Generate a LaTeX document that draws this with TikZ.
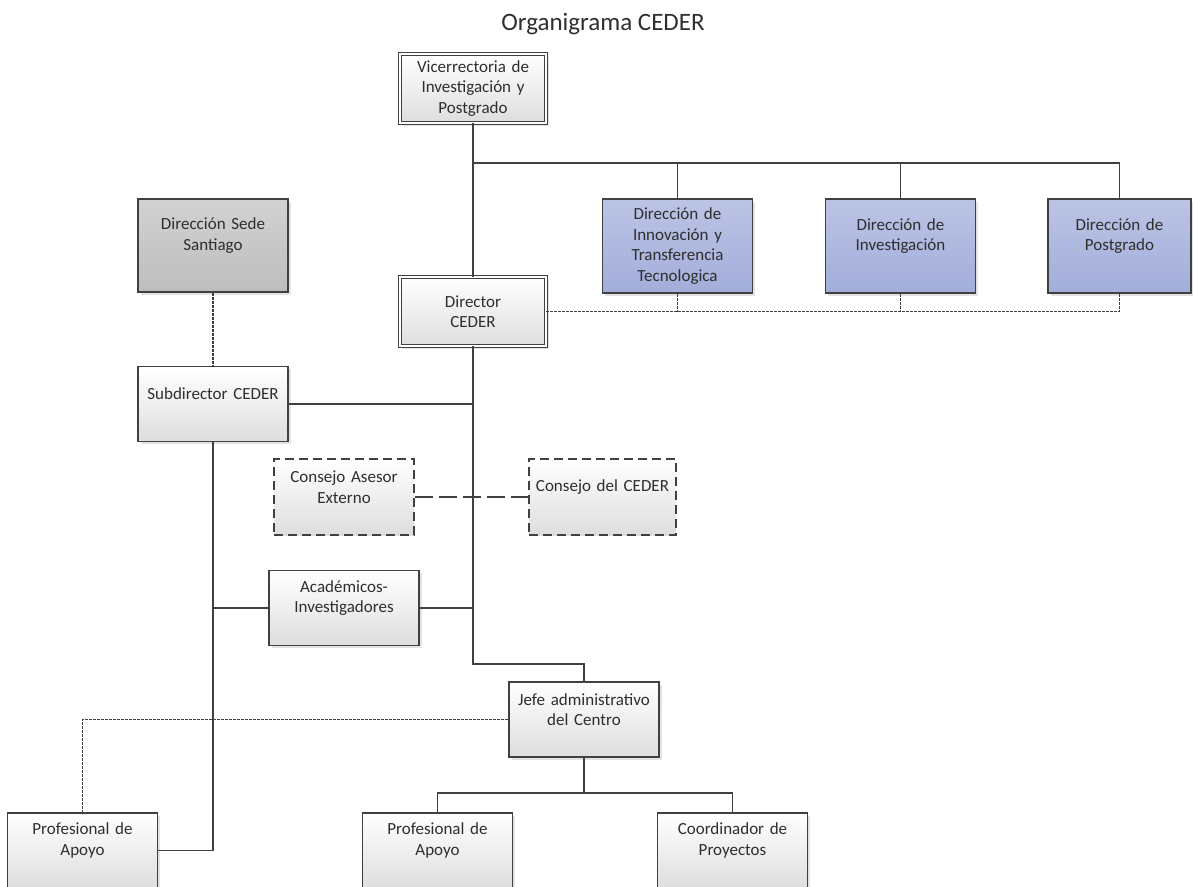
\documentclass[tikz,border=0pt]{standalone}
\usepackage{fontspec}
\setmainfont{Carlito}
\usetikzlibrary{shadows}
\definecolor{linegray}{HTML}{404040}
\definecolor{textgray}{HTML}{2E2E2E}
\definecolor{bluetop}{HTML}{BCC4E5}
\definecolor{bluebot}{HTML}{A2ADDA}
\definecolor{graytop}{HTML}{D2D2D2}
\definecolor{graybot}{HTML}{BDBDBD}
\newcommand{\boxfont}{\fontsize{17}{20.5}\selectfont}
\newcommand{\liftgap}{\par\vspace*{20pt}}

\begin{document}
\begin{tikzpicture}[x=1pt, y=-1pt,
  card/.style={draw=linegray, line width=1.1pt, top color=white, bottom color=black!13,
    minimum width=150pt, minimum height=75pt, text width=140pt, inner sep=0pt,
    align=center, font=\boxfont, text=textgray},
  unit/.style={card, drop shadow={shadow xshift=2.5pt, shadow yshift=-2.5pt, fill=black!22}},
  lifted/.style={execute at end node=\liftgap},
  twin/.style={unit, double, double distance=2.2pt, line width=0.9pt,
    minimum width=146pt, minimum height=69pt},
  dirbox/.style={unit, top color=bluetop, bottom color=bluebot, minimum height=94pt},
  council/.style={card, dash pattern=on 9pt off 5pt, minimum height=76pt},
  link/.style={draw=linegray, line width=1.2pt},
  dotline/.style={link, line width=1.4pt, dash pattern=on 3pt off 1pt},
  dashline/.style={link, dash pattern=on 18pt off 6pt}]

  \useasboundingbox (0,0) rectangle (1193,886);

  \node[anchor=base, font=\fontsize{25}{30}\selectfont, text=textgray] (title) at (603,30) {Organigrama CEDER};

  \node[twin] (vice) at (473,88.5) {Vicerrectoria de\\Investigación y\\Postgrado};
  \node[twin] (dir) at (473,311.5) {Director\\CEDER};
  \node[dirbox] (innov) at (677.5,246) {Dirección de\\Innovación y\\Transferencia\\Tecnologica};
  \node[dirbox, lifted] (inves) at (900.5,246) {Dirección de\\Investigación};
  \node[dirbox, lifted, minimum width=143pt, text width=135pt] (posg) at (1119.5,246) {Dirección de\\Postgrado};
  \node[unit, lifted, top color=graytop, bottom color=graybot, minimum height=93pt] (sede) at (213,245.5) {Dirección Sede\\Santiago};
  \node[unit, lifted] (sub) at (213,404) {Subdirector CEDER};
  \node[council, lifted, minimum width=140pt, text width=130pt] (asesor) at (344,497) {Consejo Asesor\\Externo};
  \node[council, lifted, minimum width=147pt] (consejo) at (602.5,497) {Consejo del CEDER};
  \node[unit, lifted] (acad) at (344,608) {Académicos-\\Investigadores};
  \node[unit, lifted] (jefe) at (584,719.5) {Jefe administrativo\\del Centro};
  \node[unit, lifted] (profA) at (82.5,850.5) {Profesional de\\Apoyo};
  \node[unit, lifted] (profB) at (437.5,850.5) {Profesional de\\Apoyo};
  \node[unit, lifted] (coord) at (732.5,850.5) {Coordinador de\\Proyectos};

  \coordinate (bus) at (473,163);
  \coordinate (turn) at (473,664);
  \coordinate (split) at (584,793);

  \draw[link] (vice.south) -- (dir.north);
  \foreach \n in {innov,inves,posg} {
    \draw[link] (bus) -| (\n.north);
    \draw[dotline] (\n.south) -- (\n.south |- dir.east);
  }
  \draw[dotline] (dir.east) -- (dir.east -| posg.south);
  \draw[dotline] (sede.south) -- (sub.north);
  \draw[link] (sub.east) -- (sub.east -| dir.south);
  \draw[link] (dir.south) -- (turn) -| (jefe.north);
  \draw[dashline] (asesor.east) -- (consejo.west);
  \draw[link] (acad.west) -- (acad.west -| sub.south);
  \draw[link] (acad.east) -- (acad.east -| dir.south);
  \draw[link] (sub.south) |- (profA.east);
  \draw[dotline] (jefe.west) -| (profA.north);
  \draw[link] (jefe.south) -- (split) -| (profB.north);
  \draw[link] (split) -| (coord.north);
\end{tikzpicture}
\end{document}
